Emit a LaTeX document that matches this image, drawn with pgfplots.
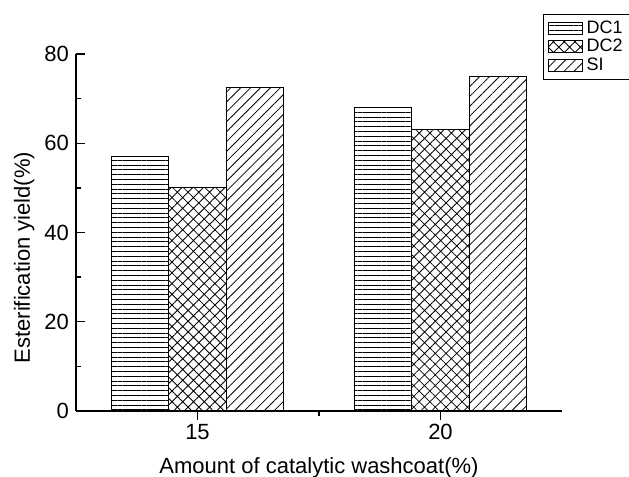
\documentclass[border=0pt]{standalone}
\usepackage{fontspec}
\setmainfont{Liberation Sans}
\usepackage{pgfplots}
\pgfplotsset{compat=1.18}
\usetikzlibrary{patterns.meta}
\pgfplotsset{mylegend/.style={legend image code/.code={\draw[##1] (0pt,-3pt) rectangle (17pt,3pt);}}}
\begin{document}
\begin{tikzpicture}
\begin{axis}[
  at={(0,0)}, anchor=south west,
  scale only axis, width=243pt, height=178.5pt,
  xmin=12.5, xmax=22.5, ymin=0, ymax=80,
  axis x line*=bottom, axis y line*=left,
  axis line style={line width=0.75pt, black},
  xtick={15,20}, minor xtick={17.5},
  ytick={0,20,40,60,80}, minor ytick={10,30,50,70},
  tick align=inside,
  major tick length=4.5pt, minor tick length=2.5pt,
  tick style={line width=0.75pt, black},
  /pgf/number format/assume math mode=true,
  tick label style={font=\fontsize{11}{13}\selectfont},
  xticklabel style={anchor=base, yshift=-10pt},
  xlabel={Amount of catalytic washcoat(\%)},
  ylabel={Esterification yield(\%)},
  label style={font=\fontsize{11}{13}\selectfont},
  xlabel style={at={(axis description cs:0.5,0)}, anchor=base, yshift=-31.5pt},
  ylabel style={at={(axis description cs:-0.0947,0.43)}, anchor=base},
  ybar, bar width=1.173,
  legend style={at={(axis description cs:0.961,1.112)}, anchor=north west,
    draw=black, line width=0.5pt, font=\fontsize{9}{10}\selectfont,
    inner xsep=2pt, inner ysep=1pt, row sep=-2.5pt},
  legend cell align=left,
]
\addplot[draw=black, line width=0.5pt, bar shift=-1.173,
  pattern={Lines[angle=0,distance=2.4pt,line width=0.4pt]}, mylegend]
  coordinates {(15,57) (20,68)};
\addlegendentry{DC1}
\addplot[draw=black, line width=0.5pt, bar shift=0,
  pattern={Hatch[angle=45,distance=3.8pt,line width=0.4pt]}, mylegend]
  coordinates {(15,50) (20,63)};
\addlegendentry{DC2}
\addplot[draw=black, line width=0.5pt, bar shift=1.173,
  pattern={Lines[angle=45,distance=3.5pt,line width=0.4pt]}, mylegend]
  coordinates {(15,72.5) (20,75)};
\addlegendentry{SI}
\end{axis}
\pgfresetboundingbox
\useasboundingbox (-38pt,-33pt) rectangle (276.5pt,205.5pt);
\end{tikzpicture}
\end{document}
